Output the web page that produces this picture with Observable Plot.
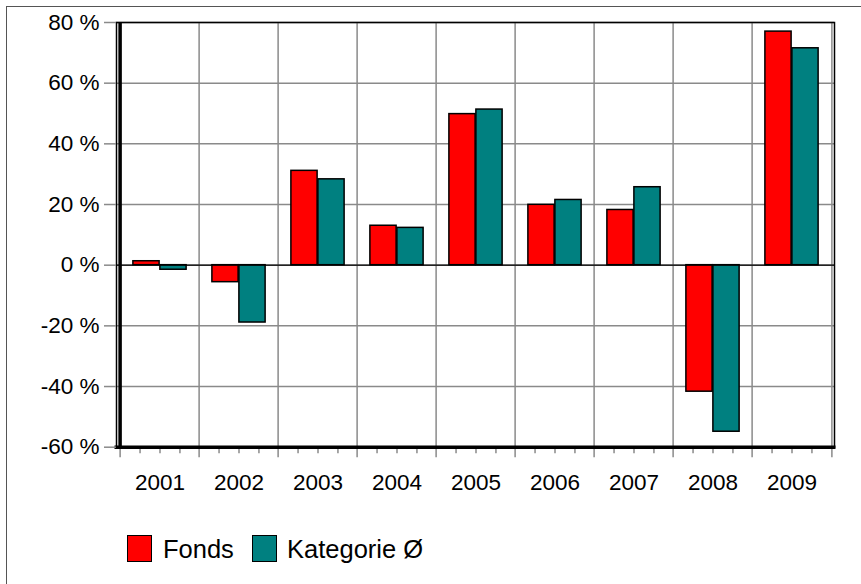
<!DOCTYPE html>
<html>
<head>
<meta charset="utf-8">
<script src="https://cdn.jsdelivr.net/npm/d3@7"></script>
<script src="https://cdn.jsdelivr.net/npm/@observablehq/plot@0.6"></script>
<style>
  html, body { margin: 0; padding: 0; background: #fff; overflow: hidden; }
  #wrap { position: relative; width: 861px; height: 584px; font-family: "Liberation Sans", Arial, sans-serif; }
  #border { position: absolute; left: 6px; top: 6px; width: 900px; height: 700px; border: 1px solid #555; box-sizing: border-box; }
  #chart { position: absolute; left: 0; top: 0; }
  .sw { position: absolute; width: 25px; height: 27px; border: 1.5px solid #000; box-sizing: border-box; }
  .lt { position: absolute; font-size: 25.5px; line-height: 25.5px; color: #000; white-space: nowrap; }
</style>
</head>
<body>
<div id="wrap">
  <div id="border"></div>
  <div id="chart"></div>
  <div id="legend"></div>
</div>
<script>
// ---- data ----
const years = ["2001", "2002", "2003", "2004", "2005", "2006", "2007", "2008", "2009"];
const fonds = [1.3, -5.6, 31.1, 13.0, 49.8, 19.9, 18.2, -41.7, 77.0];
const kategorie = [-1.5, -18.9, 28.3, 12.3, 51.3, 21.5, 25.7, -54.9, 71.5];
const seriesNames = ["Fonds", "Kategorie Ø"];
const seriesColors = ["#ff0000", "#008080"];
const yTicks = [-60, -40, -20, 0, 20, 40, 60, 80];

// ---- layout ----
const W = 861, H = 520;
const mL = 116, mR = 27, mT = 22, mB = 73.3;
const bw = (W - mL - mR) / years.length;
const barW = 27;
const gap = (bw - 2 * barW) / 2;
const grid = "#8a8a8a";
const font = "Liberation Sans, Arial, sans-serif";

const rows = years.map((y, i) => ({year: y, fonds: fonds[i], kategorie: kategorie[i]}));

const plot = Plot.plot({
  width: W,
  height: H,
  marginLeft: mL,
  marginRight: mR,
  marginTop: mT,
  marginBottom: mB,
  style: {fontFamily: font, fontSize: "22.5px", color: "#000", background: "transparent", overflow: "visible"},
  x: {domain: years, padding: 0, axis: null, label: null},
  y: {domain: [-60, 80], axis: null, label: null},
  marks: [
    // horizontal gridlines
    Plot.ruleY(yTicks, {stroke: grid, strokeWidth: 1.5}),
    // vertical gridlines at category boundaries (extend as major ticks)
    Plot.ruleX(years, {x: d => d, dx: -bw / 2, stroke: grid, strokeWidth: 1.5, insetBottom: -10.5}),
    Plot.ruleX([years[years.length - 1]], {x: d => d, dx: bw / 2, stroke: grid, strokeWidth: 1.5, insetBottom: -10.5}),
    // minor ticks at quarters
    ...[-bw / 4, 0, bw / 4].map(off =>
      Plot.ruleX(years, {x: d => d, dx: off, y1: -60, y2: -60, stroke: grid, strokeWidth: 1.5, insetBottom: -6.5})
    ),
    // bars
    Plot.barY(rows, {x: "year", y: "fonds", fill: seriesColors[0], stroke: "#000", strokeWidth: 1.5,
      insetLeft: gap, insetRight: bw - gap - barW}),
    Plot.barY(rows, {x: "year", y: "kategorie", fill: seriesColors[1], stroke: "#000", strokeWidth: 1.5,
      insetLeft: gap + barW, insetRight: gap}),
    // zero line
    Plot.ruleY([0], {stroke: "#000", strokeWidth: 1.2}),
    // frame
    Plot.frame({stroke: "#000", strokeWidth: 1.5}),
    // thick axis lines
    Plot.ruleX([years[0]], {x: d => d, dx: -bw / 2, stroke: "#000", strokeWidth: 3.5, insetBottom: -1.5}),
    Plot.ruleY([-60], {stroke: "#000", strokeWidth: 3.5, insetLeft: -1.5, insetRight: -1.5}),
    // axes
    Plot.axisY({ticks: yTicks, tickFormat: d => d + " %", tickSize: 12, tickPadding: 5, label: null,
      stroke: grid, strokeWidth: 1.5, fill: "#000", fontSize: 22.5}),
    Plot.axisX({tickSize: 0, tickPadding: 27, label: null, fill: "#000", fontSize: 22.5})
  ]
});
document.getElementById("chart").appendChild(plot);

// ---- legend (HTML below the SVG) ----
const legend = document.getElementById("legend");
const legendPos = [{sw: 127, tx: 163}, {sw: 251.5, tx: 287}];
seriesNames.forEach((name, i) => {
  const s = document.createElement("div");
  s.className = "sw";
  s.style.left = legendPos[i].sw + "px";
  s.style.top = "534.5px";
  s.style.background = seriesColors[i];
  legend.appendChild(s);
  const t = document.createElement("div");
  t.className = "lt";
  t.style.left = legendPos[i].tx + "px";
  t.style.top = "536.5px";
  t.textContent = name;
  legend.appendChild(t);
});
</script>
</body>
</html>
